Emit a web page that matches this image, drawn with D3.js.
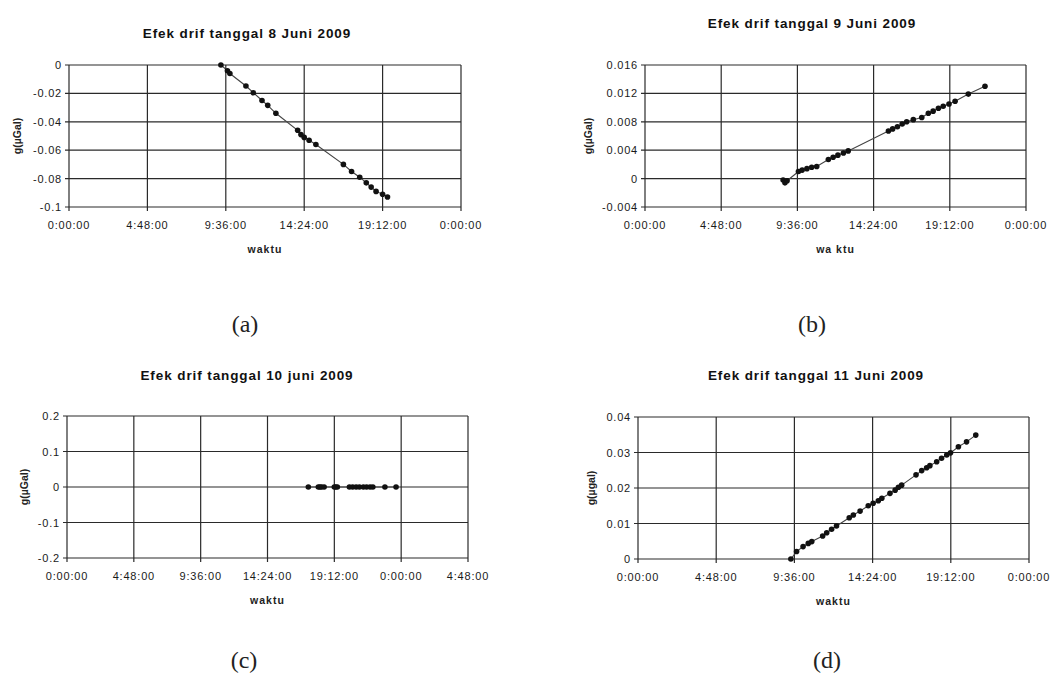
<!DOCTYPE html>
<html>
<head>
<meta charset="utf-8">
<script src="https://cdn.jsdelivr.net/npm/d3@7"></script>
<style>
  body { margin: 0; background: #fff; }
  svg { display: block; }
  .tick-label { font-family: "Liberation Sans", Arial, sans-serif; font-size: 11px; letter-spacing: 0.8px; fill: #1a1a1a; }
</style>
</head>
<body>
<script>
// grafik drift gravimeter, 4 hari pengukuran
const W = 1060, H = 681;

// data (waktu jam:menit, g dalam µGal)
const waktuA = ["9:18","9:42","9:51","10:50","11:17","11:49","12:10","12:40","14:00","14:12","14:24","14:42","15:07","16:48","17:18","17:48","18:12","18:30","18:48","19:12","19:30"];
const gA = [0,-0.004,-0.006,-0.0148,-0.0195,-0.025,-0.0284,-0.034,-0.046,-0.049,-0.051,-0.053,-0.056,-0.070,-0.075,-0.079,-0.083,-0.086,-0.089,-0.091,-0.093];

const waktuB = ["8:42","8:49","8:57","9:40","9:54","10:12","10:30","10:49","11:33","11:51","12:09","12:30","12:48","15:20","15:36","15:54","16:12","16:29","16:54","17:26","17:51","18:09","18:29","18:47","19:09","19:32","20:22","21:25"];
const gB = [-0.0002,-0.0006,-0.0003,0.001,0.0012,0.0014,0.0016,0.0017,0.0027,0.003,0.0033,0.0036,0.0039,0.0067,0.007,0.0073,0.0077,0.008,0.0083,0.0086,0.0092,0.0095,0.0099,0.0102,0.0105,0.0109,0.0119,0.013];

const waktuC = ["17:20","18:03","18:10","18:17","18:28","19:12","19:18","19:25","20:17","20:31","20:46","21:00","21:17","21:31","21:46","21:58","22:50","23:38"];
const gC = [0,0,0,0,0,0,0,0,0,0,0,0,0,0,0,0,0,0];

const waktuD = ["9:23","9:44","10:08","10:27","10:40","11:20","11:35","11:53","12:11","12:58","13:13","13:38","14:08","14:26","14:45","14:58","15:28","15:47","15:59","16:11","17:04","17:25","17:43","17:55","18:20","18:38","18:57","19:11","19:40","20:10","20:44"];
const gD = [0,0.0021,0.0035,0.0044,0.0049,0.0065,0.0074,0.0084,0.0093,0.0116,0.0124,0.0135,0.015,0.0157,0.0164,0.0171,0.0185,0.0194,0.0202,0.0208,0.0237,0.0249,0.0257,0.0263,0.0274,0.0284,0.0293,0.0299,0.0316,0.033,0.0349];

// tick
const jamTicks = [0, 4.8, 9.6, 14.4, 19.2, 24];
const jamLabels = ["0:00:00","4:48:00","9:36:00","14:24:00","19:12:00","0:00:00"];
const jamTicksC = [0, 4.8, 9.6, 14.4, 19.2, 24, 28.8];
const jamLabelsC = ["0:00:00","4:48:00","9:36:00","14:24:00","19:12:00","0:00:00","4:48:00"];
const yTicksA = [0,-0.02,-0.04,-0.06,-0.08,-0.1];
const yLabelsA = ["0","-0.02","-0.04","-0.06","-0.08","-0.1"];
const yTicksB = [0.016,0.012,0.008,0.004,0,-0.004];
const yLabelsB = ["0.016","0.012","0.008","0.004","0","-0.004"];
const yTicksC = [0.2,0.1,0,-0.1,-0.2];
const yLabelsC = ["0.2","0.1","0","-0.1","-0.2"];
const yTicksD = [0.04,0.03,0.02,0.01,0];
const yLabelsD = ["0.04","0.03","0.02","0.01","0"];

function jam(s) {
    const p = s.split(":").map(Number);
    return p[0] + p[1] / 60;
}

const svg = d3.select("body").append("svg")
    .attr("width", W)
    .attr("height", H);

function panel(o) {
    const x = d3.scaleLinear().domain([0, o.xMax]).range([o.l, o.r]);
    const y = d3.scaleLinear().domain(o.yDomain).range([o.b, o.t]);
    const g = svg.append("g");

    // judul
    g.append("text")
        .attr("x", o.titleX).attr("y", o.titleY)
        .attr("text-anchor", "middle")
        .attr("font-family", "Liberation Sans, Arial, sans-serif")
        .attr("font-weight", "bold")
        .attr("font-size", "13.5px")
        .attr("letter-spacing", "0.9px")
        .attr("fill", "#111")
        .text(o.title);

    // grid
    g.append("g").selectAll("line").data(o.yTicks).enter().append("line")
        .attr("x1", o.l - 4).attr("x2", o.r)
        .attr("y1", d => y(d)).attr("y2", d => y(d))
        .attr("stroke", "#2a2a2a").attr("stroke-width", 1.2);
    g.append("g").selectAll("line").data(o.xTicks).enter().append("line")
        .attr("x1", d => x(d)).attr("x2", d => x(d))
        .attr("y1", o.t).attr("y2", o.b + 4)
        .attr("stroke", "#2a2a2a").attr("stroke-width", 1.2);

    // label sumbu
    g.append("g").selectAll("text").data(o.yTicks).enter().append("text")
        .attr("class", "tick-label")
        .attr("x", o.l - 7).attr("y", d => y(d) + 4)
        .attr("text-anchor", "end")
        .text((d, i) => o.yLabels[i]);
    g.append("g").selectAll("text").data(o.xTicks).enter().append("text")
        .attr("class", "tick-label")
        .attr("x", d => x(d)).attr("y", o.b + 22)
        .attr("text-anchor", "middle")
        .text((d, i) => o.xLabels[i]);

    g.append("text")
        .attr("x", (o.l + o.r) / 2).attr("y", o.b + 46)
        .attr("text-anchor", "middle")
        .attr("font-family", "Liberation Sans, Arial, sans-serif")
        .attr("font-weight", "bold")
        .attr("font-size", "10.5px")
        .attr("letter-spacing", "1px")
        .attr("fill", "#222")
        .text(o.xTitle);

    g.append("text")
        .attr("transform", `translate(${o.yTitleX},${(o.t + o.b) / 2}) rotate(-90)`)
        .attr("text-anchor", "middle")
        .attr("font-family", "Liberation Sans, Arial, sans-serif")
        .attr("font-weight", "bold")
        .attr("font-size", "10.5px")
        .attr("fill", "#222")
        .text(o.yTitle);

    // data
    const pts = o.waktu.map((w, i) => ({ t: jam(w), v: o.g[i] }));
    g.append("path")
        .datum(pts)
        .attr("fill", "none")
        .attr("stroke", "#444")
        .attr("stroke-width", 1.1)
        .attr("d", d3.line().x(d => x(d.t)).y(d => y(d.v)));
    g.append("g").selectAll("circle").data(pts).enter().append("circle")
        .attr("cx", d => x(d.t)).attr("cy", d => y(d.v))
        .attr("r", 2.8)
        .attr("fill", "#111");

    // keterangan (a), (b) ...
    svg.append("text")
        .attr("x", o.capX).attr("y", o.capY)
        .attr("text-anchor", "middle")
        .attr("font-family", "Liberation Serif, Times New Roman, serif")
        .attr("font-size", "24px")
        .attr("fill", "#222")
        .text(o.cap);
}

panel({ l: 69, r: 461, t: 65, b: 207, xMax: 24, yDomain: [-0.1, 0],
    xTicks: jamTicks, xLabels: jamLabels, yTicks: yTicksA, yLabels: yLabelsA,
    waktu: waktuA, g: gA, title: "Efek drif  tanggal 8 Juni 2009", titleX: 247, titleY: 38,
    xTitle: "waktu", yTitle: "g(µGal)", yTitleX: 21, cap: "(a)", capX: 245, capY: 332 });

panel({ l: 645, r: 1026, t: 65, b: 207, xMax: 24, yDomain: [-0.004, 0.016],
    xTicks: jamTicks, xLabels: jamLabels, yTicks: yTicksB, yLabels: yLabelsB,
    waktu: waktuB, g: gB, title: "Efek drif tanggal 9 Juni 2009", titleX: 812, titleY: 28,
    xTitle: "wa ktu", yTitle: "g(µGal)", yTitleX: 592, cap: "(b)", capX: 812, capY: 332 });

panel({ l: 67, r: 468, t: 416, b: 558, xMax: 28.8, yDomain: [-0.2, 0.2],
    xTicks: jamTicksC, xLabels: jamLabelsC, yTicks: yTicksC, yLabels: yLabelsC,
    waktu: waktuC, g: gC, title: "Efek drif tanggal 10 juni 2009", titleX: 247, titleY: 380,
    xTitle: "waktu", yTitle: "g(µGal)", yTitleX: 28, cap: "(c)", capX: 244, capY: 668 });

panel({ l: 638, r: 1029, t: 417, b: 559, xMax: 24, yDomain: [0, 0.04],
    xTicks: jamTicks, xLabels: jamLabels, yTicks: yTicksD, yLabels: yLabelsD,
    waktu: waktuD, g: gD, title: "Efek drif tanggal 11 Juni 2009", titleX: 816, titleY: 380,
    xTitle: "waktu", yTitle: "g(µgal)", yTitleX: 595, cap: "(d)", capX: 827, capY: 668 });
</script>
</body>
</html>
